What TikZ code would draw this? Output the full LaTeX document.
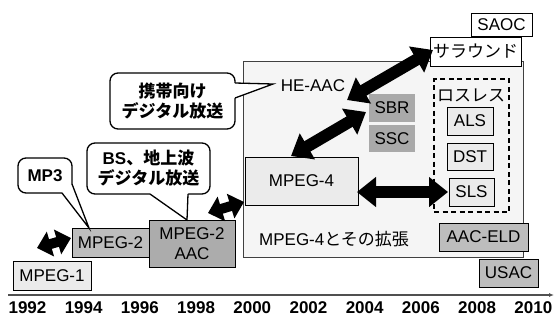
\documentclass[tikz,border=0pt]{standalone}
\usepackage{fontspec}
\setmainfont{Liberation Sans}
\newfontfamily\jp{Noto Sans CJK JP}
\usetikzlibrary{arrows.meta}
\definecolor{lightbox}{HTML}{EBEBEB}
\definecolor{midbox}{HTML}{BDBDBD}
\definecolor{darkbox}{HTML}{A9A9A9}
\definecolor{panelfill}{HTML}{F5F5F5}
\definecolor{axisgray}{HTML}{505050}
\begin{document}
\begin{tikzpicture}[x=1pt,y=-1pt,
  every node/.style={inner sep=0pt,outer sep=0pt,font=\fontsize{17}{20}\selectfont},
  box/.style={draw=black,line width=0.9pt,align=center,rectangle},
  lbox/.style={box,fill=lightbox},
  mbox/.style={box,fill=midbox},
  wbox/.style={box,fill=white},
  gbox/.style={rectangle,fill=darkbox,align=center},
  panel/.style={rectangle,draw=black!75,line width=0.8pt,fill=panelfill},
  dbox/.style={rectangle,draw=black,line width=1.6pt,dash pattern=on 5pt off 3.5pt},
  bubble/.style={rectangle,draw=black,line width=1.3pt,fill=white,rounded corners=8pt,align=center,font=\fontsize{17}{20}\selectfont\bfseries},
  ptr/.style={draw=black,line width=1.3pt,line join=miter},
  fatS/.style={black,line width=10pt,{Triangle[length=14pt,width=25pt]}-{Triangle[length=14pt,width=25pt]}},
  fatL/.style={black,line width=12pt,{Triangle[length=19pt,width=29pt]}-{Triangle[length=19pt,width=29pt]}},
  axis/.style={draw=axisgray,line width=1.3pt,-{Latex[length=5pt,width=4pt]}},
  year/.style={font=\fontsize{17}{20}\selectfont\bfseries}]
\useasboundingbox (0,0) rectangle (555,322);

% MPEG-4 panel
\node[panel,minimum width=280,minimum height=196] (panel) at (383,159) {};
\node (mp4lab) at (334,239) {MPEG-4\jp とその拡張};
\node (heaac) at (313,86) {HE-AAC};

% lossless group
\node[dbox,minimum width=75,minimum height=133] (lossless) at (471.5,145.5) {};
\node (losslab) at (471,95) {\jp ロスレス};
\node[lbox,minimum width=46,minimum height=28] (als) at (470,121) {ALS};
\node[lbox,minimum width=46,minimum height=27] (dst) at (470,156.5) {DST};
\node[lbox,minimum width=45,minimum height=28] (sls) at (471.5,192) {SLS};

% SBR / SSC
\node[gbox,minimum width=46,minimum height=28] (sbr) at (392,108) {SBR};
\node[gbox,minimum width=46,minimum height=27] (ssc) at (392,138.5) {SSC};

% top right boxes
\node[wbox,minimum width=61,minimum height=23] (saoc) at (501.5,24.5) {SAOC};
\node[wbox,minimum width=91,minimum height=29] (surr) at (475.5,51.5) {\jp サラウンド};

% bottom right
\node[mbox,minimum width=89,minimum height=28] (eld) at (483.5,237) {AAC-ELD};
\node[mbox,minimum width=59,minimum height=28] (usac) at (508.5,273) {USAC};

% timeline boxes
\node[lbox,minimum width=78,minimum height=29] (mp1) at (52,275.5) {MPEG-1};
\node[mbox,minimum width=77,minimum height=29] (mp2) at (110.5,242.5) {MPEG-2};
\node[mbox,minimum width=86,minimum height=47,fill=darkbox!85!midbox] (aac) at (192,243.5) {MPEG-2\\AAC};
\node[lbox,minimum width=113,minimum height=48] (mp4) at (301.5,181) {MPEG-4};

% callouts
\node[bubble,minimum width=54,minimum height=35] (mp3b) at (45,175.5) {MP3};
\coordinate (mp3p1) at (62,193);
\coordinate (mp3p2) at (72,184);
\coordinate (mp3q) at (66,188);
\coordinate (mp3tip) at (89,228);
\fill[white] (mp3p1) -- (mp3tip) -- (mp3p2) -- (mp3q) -- cycle;
\draw[ptr] (mp3p1) -- (mp3tip) -- (mp3p2);

\node[bubble,minimum width=123,minimum height=51] (bsb) at (148.5,168.5) {BS{\jp 、地上波}\\{\jp デジタル放送}};
\coordinate (bsp1) at (150,194);
\coordinate (bsp2) at (188,194);
\coordinate (bsq1) at (150,192);
\coordinate (bsq2) at (188,192);
\coordinate (bstip) at (187,220);
\fill[white] (bsq1) -- (bsp1) -- (bstip) -- (bsp2) -- (bsq2) -- cycle;
\draw[ptr] (bsp1) -- (bstip) -- (bsp2);

\node[bubble,minimum width=125,minimum height=56] (keib) at (172.5,101) {{\jp 携帯向け}\\{\jp デジタル放送}};
\coordinate (kp1) at (235,83);
\coordinate (kp2) at (235,98);
\coordinate (kq1) at (233,83);
\coordinate (kq2) at (233,98);
\coordinate (ktip) at (273,84);
\fill[white] (kq1) -- (kp1) -- (ktip) -- (kp2) -- (kq2) -- cycle;
\draw[ptr] (kp1) -- (ktip) -- (kp2);

% fat double arrows
\coordinate (a1s) at (37,248);
\coordinate (a1e) at (71,238);
\draw[fatS] (a1s) -- (a1e);
\coordinate (a2s) at (208,213);
\coordinate (a2e) at (244,202);
\draw[fatS] (a2s) -- (a2e);
\coordinate (a3s) at (357,192);
\coordinate (a3e) at (448,192);
\draw[fatL] (a3s) -- (a3e);
\coordinate (a4s) at (291,156);
\coordinate (a4e) at (366,112);
\draw[fatL] (a4s) -- (a4e);
\coordinate (a5s) at (347,100);
\coordinate (a5e) at (433,50);
\draw[fatL] (a5s) -- (a5e);

% time axis
\coordinate (axl) at (8,295);
\coordinate (axr) at (554,295);
\draw[axis] (axl) -- (axr);
\foreach \yr [count=\k from 0] in {1992,1994,...,2010}
  \node[year] (y\yr) at ({27.5+56.2*\k},308) {\yr};
\end{tikzpicture}
\end{document}
